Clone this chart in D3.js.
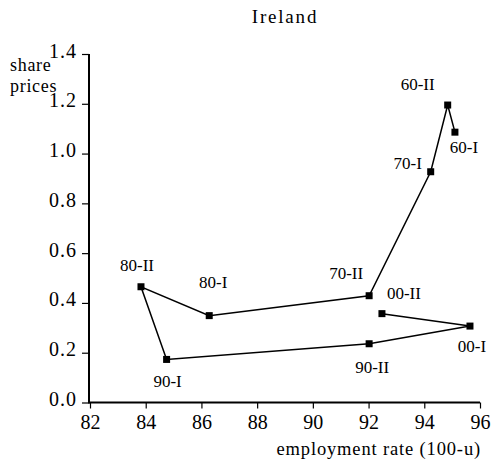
<!DOCTYPE html>
<html>
<head>
<meta charset="utf-8">
<script src="https://cdn.jsdelivr.net/npm/d3@7"></script>
<style>
  html, body { margin: 0; padding: 0; background: #fff; }
  svg { display: block; font-family: "Liberation Serif", "Times New Roman", serif; }
</style>
</head>
<body>
<svg id="chart" width="494" height="466"></svg>
<script>
// ---- data ----
const periods = ["60-I", "60-II", "70-I", "70-II", "80-I", "80-II", "90-I", "90-II", "00-I", "00-II"];
const employmentRate = [95.10, 94.84, 94.23, 92.02, 86.28, 83.83, 84.75, 92.02, 95.64, 92.48];
const sharePrices = [1.086, 1.195, 0.927, 0.429, 0.349, 0.465, 0.173, 0.236, 0.307, 0.357];
const xTicks = [82, 84, 86, 88, 90, 92, 94, 96];
const yTicks = [0.0, 0.2, 0.4, 0.6, 0.8, 1.0, 1.2, 1.4];
const title = "Ireland";
const xLabel = "employment rate (100-u)";
const yLabelLines = ["share", "prices"];

// ---- layout (label offsets in px relative to each point: [dx, dy baseline]) ----
const labelOffsets = {
  "60-I": [9, 21], "60-II": [-30, -15], "70-I": [-23, -3], "70-II": [-23, -17],
  "80-I": [4, -28], "80-II": [-4, -16], "90-I": [1, 28], "90-II": [3, 29],
  "00-I": [2, 26], "00-II": [22, -15]
};

const svg = d3.select("#chart");
const x = d3.scaleLinear().domain([82, 96]).range([90, 480]);
const y = d3.scaleLinear().domain([0, 1.4]).range([402.5, 54]);

// title
svg.append("text").attr("x", 285).attr("y", 23).attr("text-anchor", "middle")
  .style("font-size", "19px").style("letter-spacing", "1.8px").text(title);

// x axis
const xAxis = svg.append("g").attr("transform", `translate(0,${y(0)})`)
  .call(d3.axisBottom(x).tickValues(xTicks).tickFormat(d3.format("d")).tickSize(6).tickPadding(6));
xAxis.select(".domain").attr("stroke-width", 2).attr("d", `M${x(82) - 1},0H${x(96)}`);
xAxis.selectAll(".tick line").attr("stroke-width", 1.2);
xAxis.selectAll(".tick text").style("font-size", "20px")
  .style("font-family", "Liberation Serif, serif").attr("fill", "#000");

// y axis
const yAxis = svg.append("g").attr("transform", `translate(${x(82) - 1},0)`)
  .call(d3.axisLeft(y).tickValues(yTicks).tickFormat(d3.format(".1f")).tickSize(7).tickPadding(5));
yAxis.select(".domain").attr("stroke-width", 2).attr("d", `M0,${y(1.4)}V${y(0) + 1}`);
yAxis.selectAll(".tick line").attr("stroke-width", 1.2);
yAxis.selectAll(".tick text").style("font-size", "20px")
  .style("font-family", "Liberation Serif, serif").attr("fill", "#000")
  .attr("dy", "0.15em").style("letter-spacing", "1px");

// axis labels
svg.append("text").attr("x", 481).attr("y", 455).attr("text-anchor", "end")
  .style("font-size", "18.5px").style("letter-spacing", "0.85px").text(xLabel);
yLabelLines.forEach((t, i) => {
  svg.append("text").attr("x", 10).attr("y", 71 + i * 21)
    .style("font-size", "18px").style("letter-spacing", "0.7px").text(t);
});

// line
const pts = periods.map((p, i) => ({ p, xv: employmentRate[i], yv: sharePrices[i] }));
svg.append("path").datum(pts)
  .attr("fill", "none").attr("stroke", "#000").attr("stroke-width", 1.5)
  .attr("d", d3.line().x(d => x(d.xv)).y(d => y(d.yv)));

// markers
const ms = 7;
svg.selectAll("rect.m").data(pts).enter().append("rect")
  .attr("class", "m")
  .attr("x", d => x(d.xv) - ms / 2).attr("y", d => y(d.yv) - ms / 2)
  .attr("width", ms).attr("height", ms).attr("fill", "#000");

// point labels
svg.selectAll("text.lbl").data(pts).enter().append("text")
  .attr("class", "lbl")
  .attr("x", d => x(d.xv) + labelOffsets[d.p][0])
  .attr("y", d => y(d.yv) + labelOffsets[d.p][1])
  .attr("text-anchor", "middle")
  .style("font-size", "17px")
  .text(d => d.p);
</script>
</body>
</html>
